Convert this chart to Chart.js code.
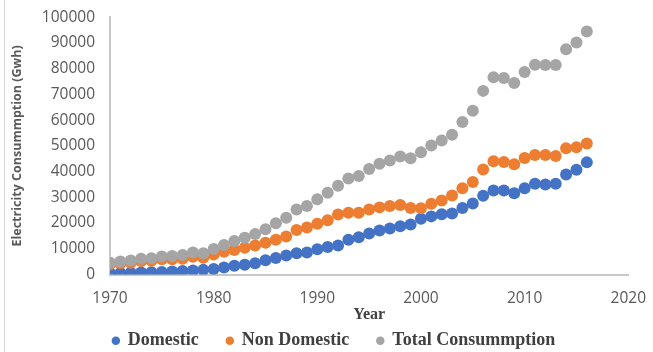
<!DOCTYPE html>
<html>
<head>
<meta charset="utf-8">
<script src="https://cdn.jsdelivr.net/npm/chart.js@4/dist/chart.umd.min.js"></script>
<style>
  html, body { margin: 0; padding: 0; background: #ffffff; }
  #wrap { position: relative; width: 653px; height: 352px; }
  #frame { position: absolute; left: 4px; top: 0; width: 1px; height: 352px; background: #d9d9d9; }
  canvas { position: absolute; left: 0; top: 0; }
</style>
</head>
<body>
<div id="wrap">
  <div id="frame"></div>
  <canvas id="chart" width="653" height="352"></canvas>
</div>
<script>
// Annual electricity consumption (GWh), 1970-2016
const years = [
  1970, 1971, 1972, 1973, 1974, 1975, 1976, 1977, 1978, 1979,
  1980, 1981, 1982, 1983, 1984, 1985, 1986, 1987, 1988, 1989,
  1990, 1991, 1992, 1993, 1994, 1995, 1996, 1997, 1998, 1999,
  2000, 2001, 2002, 2003, 2004, 2005, 2006, 2007, 2008, 2009,
  2010, 2011, 2012, 2013, 2014, 2015, 2016
];
const domestic = [
  500, 600, 700, 800, 900, 1000, 1200, 1400, 1600, 1800,
  2100, 2700, 3400, 3800, 4400, 5500, 6400, 7400, 8300, 8600,
  9800, 10700, 11300, 13500, 14500, 15900, 17100, 17900, 18750, 19400,
  21700, 22600, 23400, 23700, 25900, 27600, 30600, 32700, 32700, 31600,
  33500, 35300, 35000, 35300, 38900, 40700, 43600
];
const nonDomestic = [
  4000, 4400, 4600, 5200, 5300, 5900, 5900, 6100, 6900, 6500,
  7800, 8800, 9500, 10400, 11300, 12300, 13500, 14800, 17300, 18300,
  19700, 21100, 23300, 24000, 24000, 25300, 26100, 26600, 27000, 25900,
  25800, 27500, 28800, 30700, 33500, 36000, 40800, 44000, 43700, 42900,
  45300, 46500, 46500, 46100, 49100, 49500, 50900
];
const totalConsumption = [
  4600, 5100, 5400, 6100, 6300, 7000, 7200, 7600, 8600, 8300,
  9900, 11500, 13000, 14300, 15700, 17600, 19900, 22100, 25300, 26600,
  29300, 31800, 34500, 37300, 38300, 41000, 43100, 44300, 45900, 45200,
  47500, 50200, 52100, 54300, 59300, 63700, 71400, 76700, 76400, 74500,
  78700, 81600, 81500, 81500, 87600, 90200, 94500
];
const seriesNames = ['Domestic', 'Non Domestic', 'Total Consummption'];
const xTicks = { min: 1970, max: 2020, step: 10 };
const yTicks = { min: 0, max: 100000, step: 10000 };

const toPoints = vals => years.map((y, i) => ({ x: y, y: vals[i] }));

const tickColor = '#595959';
const axisColor = '#c8c8c8';
const sans = "'Open Sans', 'Liberation Sans', sans-serif";
const serif = "'Liberation Serif', 'DejaVu Serif', serif";

new Chart(document.getElementById('chart'), {
  type: 'scatter',
  data: {
    datasets: [
      { label: seriesNames[0], data: toPoints(domestic), backgroundColor: '#4472c4', borderColor: '#4472c4', order: 2 },
      { label: seriesNames[1], data: toPoints(nonDomestic), backgroundColor: '#ed7d31', borderColor: '#ed7d31', order: 1 },
      { label: seriesNames[2], data: toPoints(totalConsumption), backgroundColor: '#a5a5a5', borderColor: '#a5a5a5', order: 0 }
    ]
  },
  options: {
    responsive: false,
    animation: false,
    devicePixelRatio: 1,
    elements: { point: { radius: 6, borderWidth: 0, hoverRadius: 6 } },
    layout: { padding: { left: 29, right: 14, top: 0, bottom: -7.8 } },
    scales: {
      x: {
        type: 'linear',
        min: xTicks.min, max: xTicks.max,
        grid: { display: false, drawTicks: false },
        border: { display: true, color: axisColor, width: 2 },
        ticks: { stepSize: xTicks.step, color: tickColor, padding: 7, font: { family: sans, size: 15.5, lineHeight: 2.2 }, callback: v => String(v) },
        title: { display: true, text: 'Year', color: '#404040', padding: { top: 0, bottom: -18.7 }, font: { family: serif, size: 16, weight: 'bold', lineHeight: 1 } },
        afterFit: scale => { scale.height = 29.3; }
      },
      y: {
        min: yTicks.min, max: yTicks.max,
        grid: { display: false, drawTicks: false },
        border: { display: true, color: axisColor, width: 2 },
        ticks: { stepSize: yTicks.step, color: tickColor, padding: 15, font: { family: sans, size: 15.5, lineHeight: 0.3 }, callback: v => String(v) },
        title: { display: true, text: 'Electricity Consummption (Gwh)', color: '#595959', padding: { top: -19.5, bottom: 17.3 }, font: { family: sans, size: 12.5, weight: 'bold', lineHeight: 1.2 } },
        afterFit: scale => { scale.width = 81; }
      }
    },
    plugins: {
      tooltip: { enabled: false },
      legend: {
        position: 'bottom',
        labels: {
          usePointStyle: true,
          pointStyle: 'circle',
          boxWidth: 6, boxHeight: 6,
          padding: 28,
          color: '#404040',
          font: { family: serif, size: 18, weight: 'bold' },
          sort: (a, b) => a.datasetIndex - b.datasetIndex
        }
      }
    }
  }
});
</script>
</body>
</html>
